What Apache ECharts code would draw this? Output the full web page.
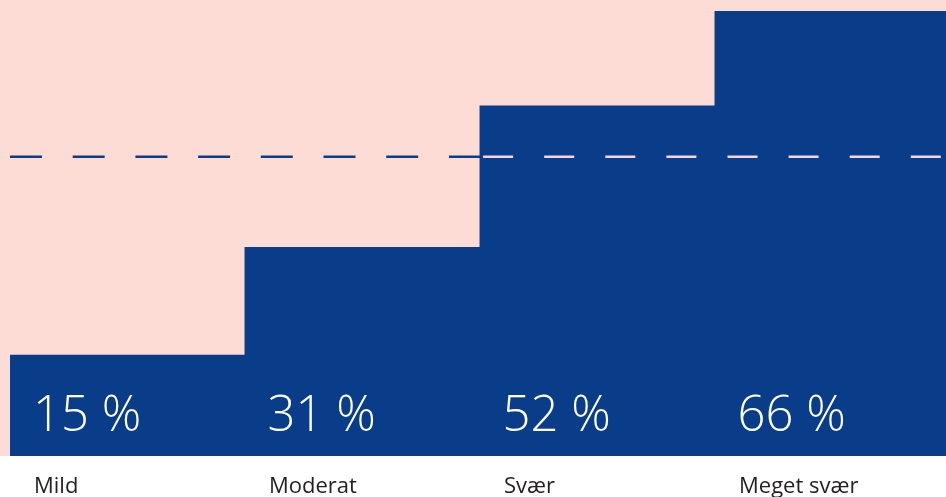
<!DOCTYPE html>
<html>
<head>
<meta charset="utf-8">
<script src="https://cdn.jsdelivr.net/npm/echarts@6/dist/echarts.min.js"></script>
<style>
html,body{margin:0;padding:0;background:#fff;}
#c{width:946px;height:497px;}
</style>
</head>
<body>
<div id="c"></div>
<script>
const categories = ['Mild', 'Moderat', 'Svær', 'Meget svær'];
const values = [15, 31, 52, 66];
const referenceValue = 44.4;
const yMax = 67.63;
const refBlueSegment = [[0, referenceValue], [2, referenceValue]];
const refLightSegment = [[2, referenceValue], [4, referenceValue]];

const BLUE = '#0A3D89';
const PINK = '#FDDCD5';
const LIGHT = '#F7D3DA';

const chart = echarts.init(document.getElementById('c'), null, {renderer: 'canvas'});
chart.setOption({
  animation: false,
  backgroundColor: '#ffffff',
  graphic: [{
    type: 'rect', z: -10, silent: true,
    shape: {x: 0, y: 0, width: 946, height: 456},
    style: {fill: PINK}
  }],
  grid: {left: 10, width: 940, top: 0, height: 456, containLabel: false, outerBoundsMode: 'none'},
  xAxis: [
    {type: 'category', data: categories, axisLine: {show: false}, axisTick: {show: false}, axisLabel: {show: false}},
    {type: 'category', data: categories.concat(['']), boundaryGap: false, position: 'bottom',
     axisLine: {show: false}, axisTick: {show: false}, splitLine: {show: false},
     axisLabel: {show: true, interval: 0, align: 'left', padding: [0, 0, 0, 24], margin: 20,
       fontFamily: 'Open Sans', fontSize: 22, color: '#231F20'}},
    {type: 'value', min: 0, max: 4, show: false}
  ],
  yAxis: {type: 'value', min: 0, max: yMax, show: false, splitLine: {show: false}},
  series: [
    {
      type: 'bar', xAxisIndex: 0, data: values, barWidth: '100.4%', barCategoryGap: 0, z: 2,
      itemStyle: {color: BLUE},
      label: {show: true, position: 'insideBottomLeft', distance: 0, offset: [23, -14],
        formatter: p => p.value + ' %', color: '#ffffff', fontFamily: 'Open Sans', fontWeight: 300, fontSize: 49}
    },
    {
      type: 'line', xAxisIndex: 2, data: refBlueSegment, symbol: 'none', z: 5, silent: true,
      lineStyle: {color: BLUE, width: 2.5, type: [32, 30.7]}
    },
    {
      type: 'line', xAxisIndex: 2, data: refLightSegment, symbol: 'none', z: 5, silent: true,
      lineStyle: {color: LIGHT, width: 2.5, type: [30, 31.1], dashOffset: 58}
    }
  ]
});
</script>
</body>
</html>
